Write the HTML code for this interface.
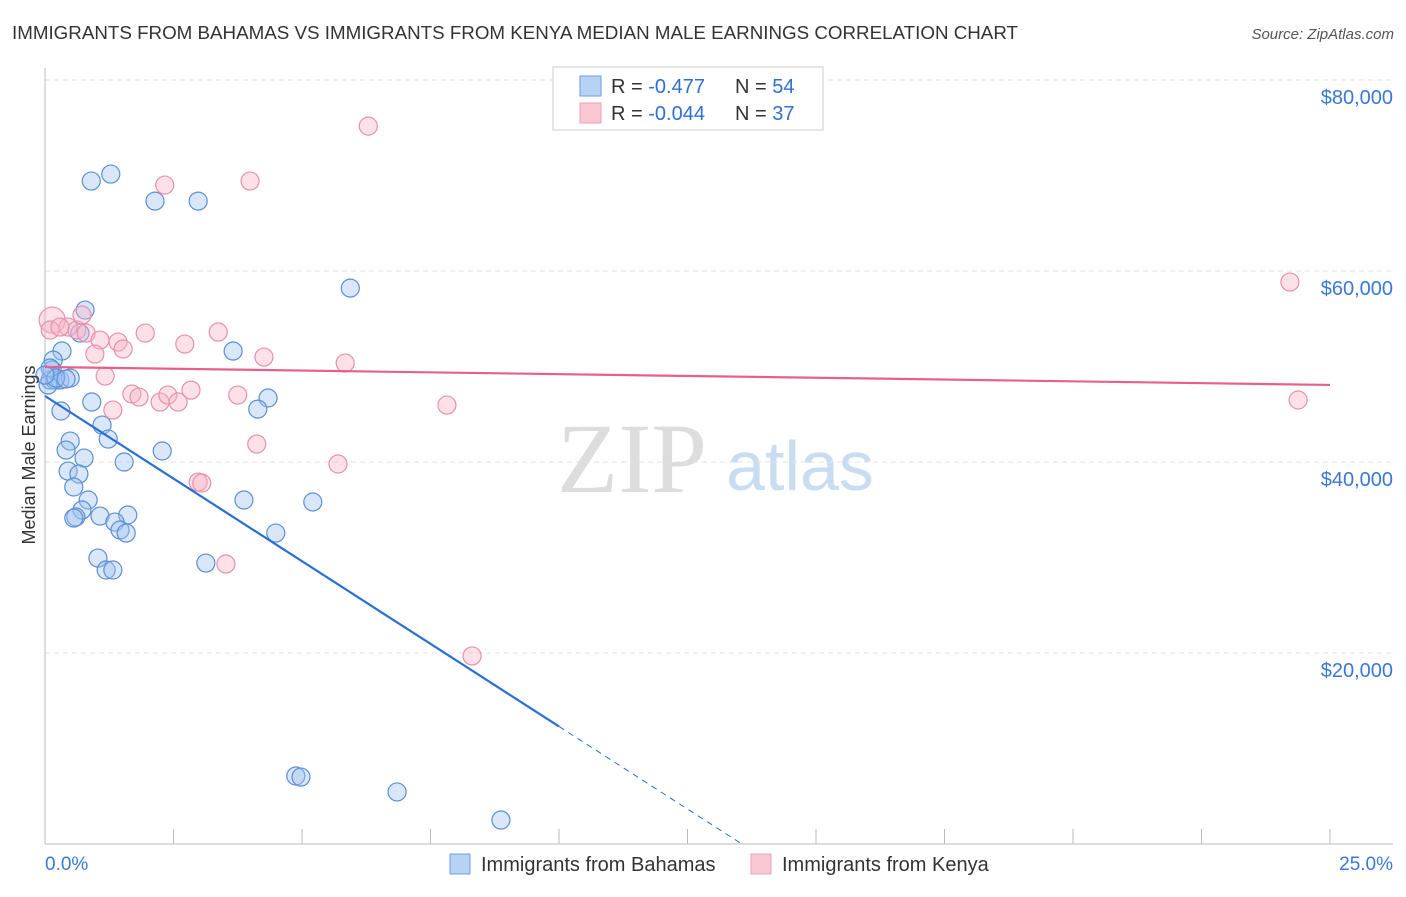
<!DOCTYPE html>
<html><head><meta charset="utf-8"><style>
body{margin:0;background:#fff;font-family:"Liberation Sans",sans-serif;}
</style></head><body>
<svg width="1406" height="892" viewBox="0 0 1406 892" xmlns="http://www.w3.org/2000/svg" id="chart">
<text x="12" y="39" font-size="18" fill="#333" textLength="1006" lengthAdjust="spacingAndGlyphs">IMMIGRANTS FROM BAHAMAS VS IMMIGRANTS FROM KENYA MEDIAN MALE EARNINGS CORRELATION CHART</text>
<text x="1394" y="39" font-size="15" fill="#555" font-style="italic" text-anchor="end">Source: ZipAtlas.com</text>
<text x="632" y="492" font-size="100" fill="#ddd" font-family="Liberation Serif,serif" text-anchor="middle">ZIP</text>
<text x="800" y="490" font-size="70" fill="#c8dcf2" text-anchor="middle">atlas</text>
<g id="grid"></g>
<g id="axes"></g>
<g id="marks"></g>
<text transform="translate(35,455) rotate(-90)" font-size="18" fill="#333" text-anchor="middle">Median Male Earnings</text>
<g>
<rect x="553" y="67" width="270" height="63" fill="#fff" stroke="#ccc"/>
<rect x="580" y="76" width="21" height="20" fill="#b8d2f4" stroke="#6a9ee0"/>
<rect x="580" y="103" width="21" height="20" fill="#f9c6d4" stroke="#eda0b8"/>
<text x="611" y="93" font-size="20" fill="#333">R = <tspan fill="#2f6fd4">-0.477</tspan></text>
<text x="735" y="93" font-size="20" fill="#333">N = <tspan fill="#2f6fd4">54</tspan></text>
<text x="611" y="120" font-size="20" fill="#333">R = <tspan fill="#2f6fd4">-0.044</tspan></text>
<text x="735" y="120" font-size="20" fill="#333">N = <tspan fill="#2f6fd4">37</tspan></text>
</g>
<g>
<rect x="450" y="854" width="20" height="20" fill="#b8d2f4" stroke="#6a9ee0"/>
<text x="481" y="871" font-size="20" fill="#333">Immigrants from Bahamas</text>
<rect x="751" y="854" width="20" height="20" fill="#f9c6d4" stroke="#eda0b8"/>
<text x="782" y="871" font-size="20" fill="#333">Immigrants from Kenya</text>
</g>
</svg>
<script>
const blueX=[0.90,1.28,2.14,2.98,5.94,0.78,0.68,0.33,0.16,0.14,0.10,0.19,0.29,0.49,3.66,4.34,4.14,0.91,0.31,1.11,0.49,1.23,0.41,2.28,0.76,1.54,0.45,0.66,0.56,0.84,3.87,5.21,0.72,0.60,0.56,1.07,1.61,1.36,1.46,1.58,4.49,1.03,3.13,1.19,1.32,4.88,4.98,6.85,8.87,0.06,0.10,0.21,0.41,0.00];
const blueY=[69420,70150,67320,67320,58210,55910,53500,51620,50670,49630,48580,48580,48580,48790,51620,46700,45540,46280,45340,43870,42190,42400,41250,41150,40410,40000,39050,38740,37380,36020,36020,35810,34970,34240,34130,34340,34450,33710,32880,32560,32560,29940,29420,28690,28690,7120,7010,5450,2510,48060,49840,48790,48690,49100];
const pinkX=[0.14,0.10,0.45,0.62,0.72,0.80,1.07,1.42,1.52,0.97,1.95,2.33,3.99,6.29,24.22,2.72,3.37,4.26,5.84,1.17,1.32,1.69,1.83,2.24,2.39,2.59,2.84,3.75,2.98,3.05,4.12,5.70,7.82,3.52,8.31,24.38,0.29];
const pinkY=[54860,53820,54130,53820,55390,53500,52770,52560,51830,51300,53500,69000,69420,75170,58840,52350,53610,50990,50360,49000,45440,47120,46800,46280,47010,46280,47530,47010,37900,37800,41880,39790,45960,29320,19690,46490,54130];
const yTicks=[20000,40000,60000,80000];
const yTickLabels=["$20,000","$40,000","$60,000","$80,000"];
const xTicks=[0,2.5,5,7.5,10,12.5,15,17.5,20,22.5,25];
const blueTrend=[46910,-3460];
const pinkTrend=[49950,-75.2];
const NS="http://www.w3.org/2000/svg";
const X=v=>45+v/25*1285;
const Y=v=>844-v/20000*191;
function mk(tag,attrs,parent){const e=document.createElementNS(NS,tag);for(const k in attrs)e.setAttribute(k,attrs[k]);document.getElementById(parent).appendChild(e);return e;}
yTicks.forEach((t,i)=>{
 const g=mk('line',{x1:45,x2:1393,y1:Y(t),y2:Y(t),stroke:'#e2e2e2','stroke-dasharray':'5,4'},'grid');
 
 
 const l=mk('text',{x:1393,y:Y(t)+24,'font-size':20,fill:'#3a78d8','text-anchor':'end'},'axes');
 l.textContent=yTickLabels[i];
 
 
});
const ax=mk('line',{x1:45,x2:1393,y1:844,y2:844,stroke:'#bbb'},'axes');


const ay=mk('line',{x1:45,x2:45,y1:68,y2:844,stroke:'#bbb'},'axes');


xTicks.forEach(t=>{
 const tk=mk('line',{x1:X(t),x2:X(t),y1:829,y2:844,stroke:'#bbb'},'axes');
 
 
});
const xl0=mk('text',{x:45,y:870,'font-size':19,fill:'#3a78d8'},'axes');xl0.textContent=xTicks[0].toFixed(1)+'%';


const xl1=mk('text',{x:1393,y:870,'font-size':19,fill:'#3a78d8','text-anchor':'end'},'axes');xl1.textContent=xTicks[xTicks.length-1].toFixed(1)+'%';


blueX.forEach((x,i)=>{
 const c=mk('circle',{cx:X(x),cy:Y(blueY[i]),r:9,fill:'rgba(160,196,240,0.4)',stroke:'#5a8fd8','stroke-width':1.2},'marks');
 
 
});
pinkX.forEach((x,i)=>{
 const c=mk('circle',{cx:X(x),cy:Y(pinkY[i]),r:i==0?13:9,fill:'rgba(248,180,200,0.4)',stroke:'#e890aa','stroke-width':1.2},'marks');
 
 
});
const bEnd=10, bZero=-blueTrend[0]/blueTrend[1];
const bl=mk('line',{x1:X(0),y1:Y(blueTrend[0]),x2:X(bEnd),y2:Y(blueTrend[0]+blueTrend[1]*bEnd),stroke:'#2a6fd6','stroke-width':2.2},'marks');


const bd=mk('line',{x1:X(bEnd),y1:Y(blueTrend[0]+blueTrend[1]*bEnd),x2:X(bZero),y2:Y(0),stroke:'#2a6fd6','stroke-width':1,'stroke-dasharray':'6,5'},'marks');


const pl=mk('line',{x1:X(0),y1:Y(pinkTrend[0]),x2:X(25),y2:Y(pinkTrend[0]+pinkTrend[1]*25),stroke:'#e8608a','stroke-width':2.2},'marks');


</script>
</body></html>
